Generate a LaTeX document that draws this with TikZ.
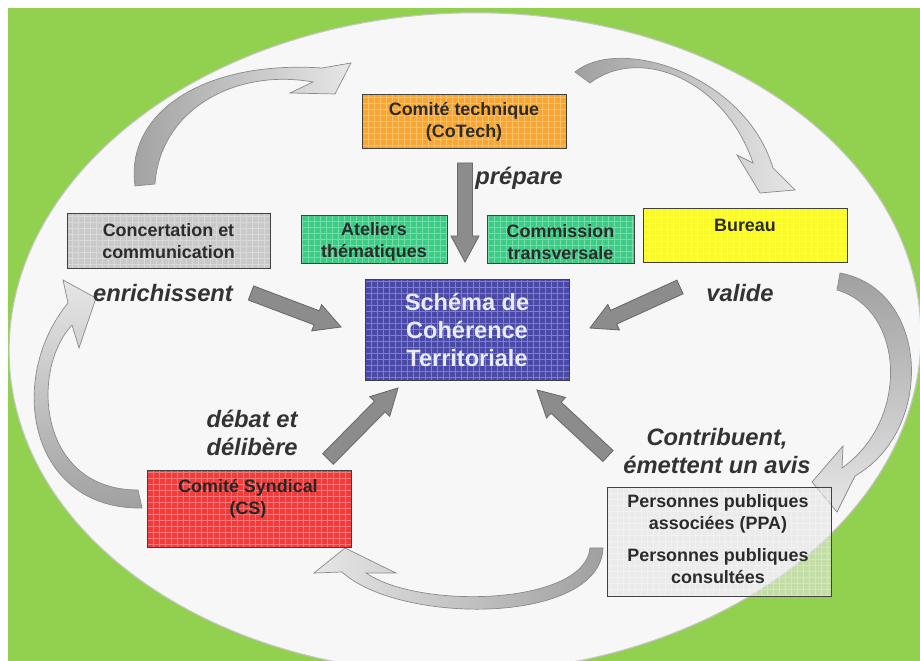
\documentclass[tikz,border=0pt]{standalone}
\usepackage{fontspec}
\setmainfont{Liberation Sans}
\usetikzlibrary{calc}
\definecolor{bggreen}{HTML}{92D050}
\definecolor{ovalfill}{HTML}{F7F7F7}
\definecolor{cotechc}{HTML}{F8A632}
\definecolor{atelc}{HTML}{3DCC85}
\definecolor{scotc}{HTML}{4A4AA6}
\definecolor{bureauc}{HTML}{FAFA2A}
\definecolor{csc}{HTML}{F23C3C}
\definecolor{concc}{HTML}{C9C9C9}
\definecolor{ppac}{HTML}{E4E4E4}
\definecolor{txtc}{HTML}{2B2B2B}
\definecolor{labc}{HTML}{333333}
\definecolor{arrc}{HTML}{8C8C8C}
\definecolor{arrd}{HTML}{6A6A6A}
\definecolor{cdark}{HTML}{A0A0A0}
\definecolor{clight}{HTML}{E6E6E6}
\definecolor{cline}{HTML}{8A8A8A}
\newcommand\blockarr[2]{%
  \coordinate (ba-h) at ($(#2)!0.52cm!(#1)$);
  \filldraw[blockarrow] ($(#1)!0.15cm!90:(#2)$) -- ($(ba-h)!0.15cm!90:(#2)$) -- ($(ba-h)!0.28cm!90:(#2)$) -- (#2) -- ($(ba-h)!0.28cm!-90:(#2)$) -- ($(ba-h)!0.15cm!-90:(#2)$) -- ($(#1)!0.15cm!-90:(#2)$) -- cycle;}
\begin{document}
\begin{tikzpicture}[x=0.02cm,y=-0.02cm,
  box/.style={draw=black!75, line width=0.5pt, inner sep=0pt, outer sep=0pt,
    path picture={\draw[white,opacity=0.3,line width=0.35pt] (path picture bounding box.south west) grid[step=0.12cm] (path picture bounding box.north east);}},
  boxtext/.style={align=center, text=txtc, font=\fontsize{10.2}{12.2}\selectfont\bfseries, inner sep=0pt},
  lab/.style={align=center, text=labc, font=\fontsize{13.5}{15.5}\selectfont\bfseries\itshape, inner sep=0pt},
  blockarrow/.style={fill=arrc, draw=arrd, line width=0.5pt, line join=miter},
  curvearrow/.style={draw=cline, line width=0.4pt, line join=miter},
]
\useasboundingbox (0,0) rectangle (920,661);
% background
\fill[white] (0,0) rectangle (920,661);
\fill[bggreen] (8,8) rectangle (920,661);
\begin{scope}
\clip (8,8) rectangle (920,661);
\filldraw[fill=ovalfill, draw=gray!45, line width=0.6pt, rotate around={2:(465,343)}] (465,343) ellipse [x radius=456, y radius=330];
\end{scope}

% curved cycle arrows
\path[curvearrow, left color=cdark, right color=clight]
  (135,186) .. controls (125,115) and (200,60) .. (322,68) -- (351,63) -- (335,94) -- (290,93) -- (313,82)
  .. controls (235,68) and (160,110) .. (155,184) -- cycle;
\path[curvearrow, left color=cdark, right color=clight]
  (575,72) .. controls (620,35) and (745,75) .. (773,168) -- (795,190) -- (760,193) -- (737,155) -- (753,163)
  .. controls (725,80) and (640,45) .. (590,83) -- cycle;
\path[curvearrow, top color=cdark, bottom color=clight]
  (840,273) .. controls (930,290) and (935,430) .. (855,476) -- (837,512) -- (812,482) -- (843,446) -- (842,468)
  .. controls (910,420) and (905,310) .. (837,290) -- cycle;
\path[curvearrow, right color=cdark, left color=clight]
  (603,548) .. controls (600,625) and (400,625) .. (342,572) -- (314,573) -- (345,548) -- (396,573) -- (366,573)
  .. controls (420,610) and (585,605) .. (590,548) -- cycle;
\path[curvearrow, bottom color=cdark, top color=clight]
  (142,508) .. controls (30,510) and (5,380) .. (68,303) -- (63,280) -- (96,298) -- (79,348) -- (72,325)
  .. controls (30,370) and (38,490) .. (138,490) -- cycle;

% boxes
\node[box, fill=cotechc, minimum width=4.08cm, minimum height=1.08cm] (cotech) at (464,121) {};
\node[boxtext] (cotech-t) at (464,122) {Comité technique\\(CoTech)};
\node[box, fill=atelc, minimum width=2.92cm, minimum height=0.96cm] (ateliers) at (374,239) {};
\node[boxtext] (ateliers-t) at (374,242) {Ateliers\\thématiques};
\node[box, fill=atelc, minimum width=2.94cm, minimum height=0.96cm] (commission) at (560.5,239) {};
\node[boxtext] (commission-t) at (560.5,242) {Commission\\transversale};
\node[box, fill=scotc, minimum width=4.08cm, minimum height=2.02cm] (scot) at (467,329.5) {};
\node[boxtext, text=white!92!blue, font=\fontsize{13.4}{15.9}\selectfont\bfseries] (scot-t) at (467,330) {Schéma de\\Cohérence\\Territoriale};
\node[box, fill=concc, minimum width=4.06cm, minimum height=1.10cm] (concert) at (168.5,240.5) {};
\node[boxtext] (concert-t) at (168.5,241) {Concertation et\\communication};
\node[box, fill=bureauc, minimum width=4.08cm, minimum height=1.08cm] (bureau) at (745,235) {};
\node[boxtext] (bureau-t) at (745,225) {Bureau};
\node[box, fill=csc, minimum width=4.08cm, minimum height=1.54cm] (cs) at (249,508.5) {};
\node[boxtext, text=black!85] (cs-t) at (248,499) {Comité Syndical\\(CS)};
\node[box, fill=ppac, fill opacity=0.6, minimum width=4.48cm, minimum height=2.18cm] (ppa) at (719,541.5) {};
\node[boxtext] (ppa-t1) at (718,514) {Personnes publiques\\associées (PPA)};
\node[boxtext] (ppa-t2) at (718,566) {Personnes publiques\\consultées};

% straight arrows
\coordinate (prep-s) at (465,163); \coordinate (prep-e) at (465,262);
\coordinate (enr-s) at (251,293);  \coordinate (enr-e) at (341,327);
\coordinate (val-s) at (680,287);  \coordinate (val-e) at (590,328);
\coordinate (deb-s) at (328,459);  \coordinate (deb-e) at (398,388);
\coordinate (con-s) at (608,456);  \coordinate (con-e) at (537,390);
\blockarr{prep-s}{prep-e}
\blockarr{enr-s}{enr-e}
\blockarr{val-s}{val-e}
\blockarr{deb-s}{deb-e}
\blockarr{con-s}{con-e}

% labels
\node[lab] (prep-l) at (519,178) {prépare};
\node[lab] (enr-l) at (163,293) {enrichissent};
\node[lab] (val-l) at (740,293) {valide};
\node[lab] (deb-l) at (252,433) {débat et\\délibère};
\node[lab] (con-l) at (717,451) {Contribuent,\\émettent un avis};
\end{tikzpicture}
\end{document}
